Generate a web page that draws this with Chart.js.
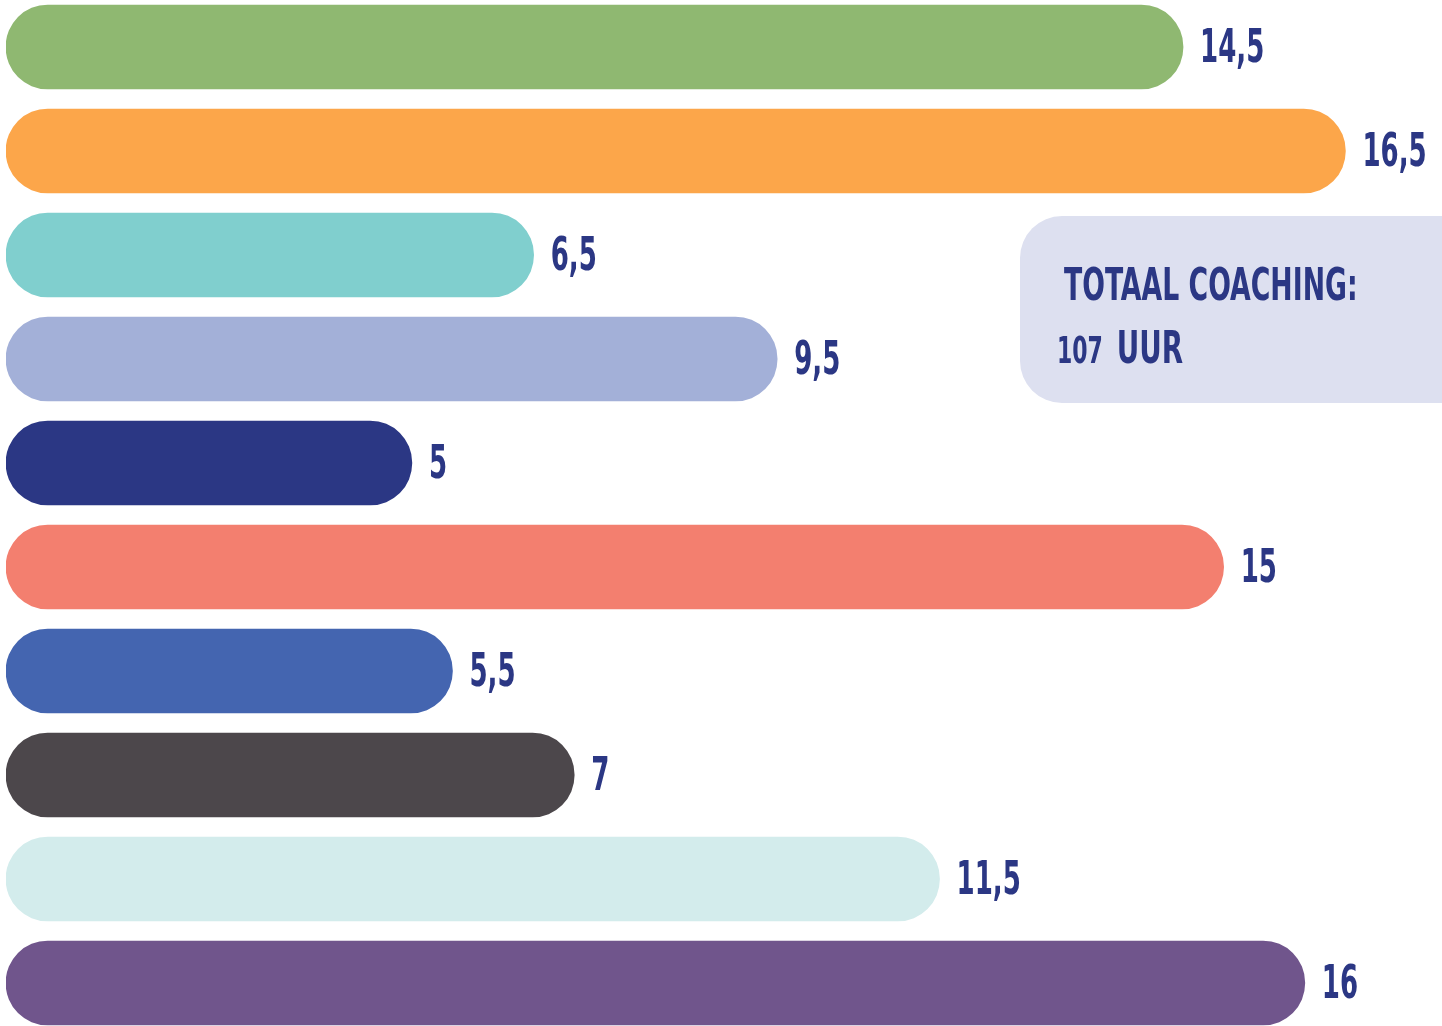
<!DOCTYPE html>
<html>
<head>
<meta charset="utf-8">
<script src="https://cdn.jsdelivr.net/npm/chart.js@4"></script>
<style>
  html, body { margin: 0; padding: 0; background: #fff; overflow: hidden; }
  #wrap { position: absolute; left: 0; top: -5px; width: 1442px; height: 1040px; }
</style>
</head>
<body>
<div id="wrap"><canvas id="myChart"></canvas></div>
<script>
const labels = ['1', '2', '3', '4', '5', '6', '7', '8', '9', '10'];
const hours = [14.5, 16.5, 6.5, 9.5, 5, 15, 5.5, 7, 11.5, 16];
const barColors = [
    '#8fb871', '#fca64a', '#80cfce', '#a3b0d8', '#2b3784',
    '#f37f6f', '#4465b0', '#4c474b', '#d3ecec', '#70558c'
];
const totalTitle = 'TOTAAL COACHING:';
const totalValue = '107';
const totalUnit = 'UUR';

const textColor = '#2b3784';
const fontFamily = '"DejaVu Sans Condensed", "Liberation Sans Narrow", sans-serif';

// draws text squeezed horizontally, returns drawn width
function narrowText(ctx, txt, x, y, size, sx) {
    ctx.save();
    ctx.font = 'bold ' + size + 'px ' + fontFamily;
    ctx.translate(x, y);
    ctx.scale(sx, 1);
    ctx.fillText(txt, 0, 0);
    const w = ctx.measureText(txt).width * sx;
    ctx.restore();
    return w;
}

// value labels at the end of each bar
const valueLabels = {
    id: 'valueLabels',
    afterDatasetsDraw(chart) {
        const ctx = chart.ctx;
        const meta = chart.getDatasetMeta(0);
        ctx.save();
        ctx.fillStyle = textColor;
        ctx.textBaseline = 'alphabetic';
        ctx.textAlign = 'left';
        meta.data.forEach(function (bar, i) {
            const txt = String(hours[i]).replace('.', ',');
            narrowText(ctx, txt, bar.x + 17, bar.y + 15, 46, 0.63);
        });
        ctx.restore();
    }
};

// the "totaal" box on the right
const totalBox = {
    id: 'totalBox',
    afterDraw(chart) {
        const ctx = chart.ctx;
        const x = 1020, y = 221, w = 440, h = 187, r = 42;
        ctx.save();
        ctx.fillStyle = '#dde0f0';
        ctx.beginPath();
        ctx.roundRect(x, y, w, h, [r, 0, 0, r]);
        ctx.fill();
        ctx.fillStyle = textColor;
        ctx.textBaseline = 'alphabetic';
        narrowText(ctx, totalTitle, 1064, 305, 44, 0.675);
        const w1 = narrowText(ctx, totalValue, 1057, 368, 37, 0.66);
        narrowText(ctx, totalUnit, 1057 + w1 + 14, 368, 44, 0.7);
        ctx.restore();
    }
};

const data = {
    labels: labels,
    datasets: [{
        data: hours,
        backgroundColor: barColors,
        borderRadius: 42,
        borderSkipped: false,
        barThickness: 84
    }]
};

const config = {
    type: 'bar',
    data: data,
    options: {
        indexAxis: 'y',
        responsive: true,
        maintainAspectRatio: false,
        animation: false,
        layout: {
            padding: { left: 6, right: 56, top: 0, bottom: 0 }
        },
        plugins: {
            legend: { display: false },
            tooltip: { enabled: false }
        },
        scales: {
            x: { display: false, min: 0, max: 17 },
            y: { display: false }
        }
    },
    plugins: [valueLabels, totalBox]
};

var myChart = new Chart(document.getElementById('myChart'), config);
</script>
</body>
</html>
